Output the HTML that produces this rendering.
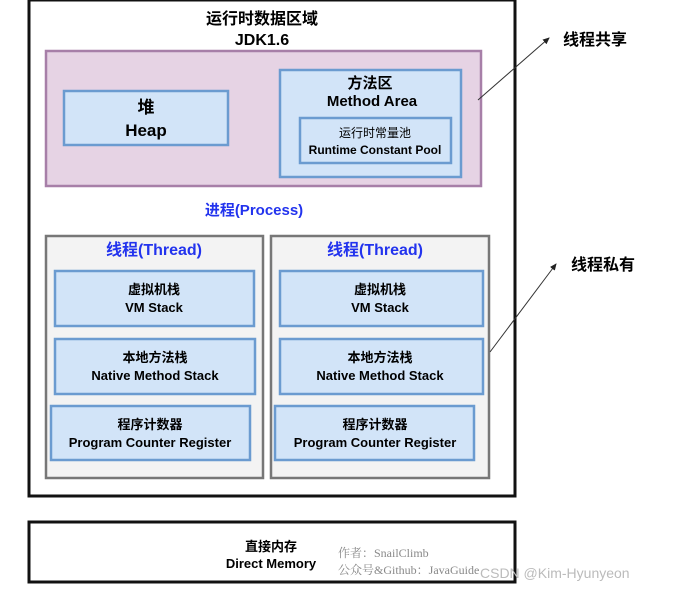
<!DOCTYPE html>
<html><head><meta charset="utf-8"><style>
body{margin:0;background:#fff}
text{font-family:"Liberation Sans","Noto Sans CJK SC",sans-serif;font-weight:bold;text-anchor:middle}
text.n{font-weight:normal}
</style></head><body>
<svg width="674" height="592" xmlns="http://www.w3.org/2000/svg">
<defs><marker id="a" markerWidth="8" markerHeight="8" refX="6" refY="3" orient="auto"><path d="M0,0 L7,3 L0,6 z" fill="#222"/></marker></defs>
<rect x="29" y="0" width="486" height="496" fill="#fff" stroke="#111" stroke-width="3"/>
<text x="262" y="24" font-size="16">运行时数据区域</text>
<text x="262" y="45" font-size="16">JDK1.6</text>
<rect x="46" y="51" width="435" height="135" fill="#e6d3e4" stroke="#a77fa8" stroke-width="2.5"/>
<rect x="64" y="91" width="164" height="54" fill="#d2e4f8" stroke="#6b9bd0" stroke-width="2.5"/>
<text x="146" y="113" font-size="17">堆</text>
<text x="146" y="136" font-size="17">Heap</text>
<rect x="280" y="70" width="181" height="107" fill="#d2e4f8" stroke="#6b9bd0" stroke-width="2.5"/>
<text x="370" y="88" font-size="15">方法区</text>
<text x="372" y="106" font-size="15">Method Area</text>
<rect x="300" y="118" width="151" height="45" fill="#d2e4f8" stroke="#6b9bd0" stroke-width="2.5"/>
<text x="375" y="137" font-size="12" class="n">运行时常量池</text>
<text x="375" y="154" font-size="12">Runtime Constant Pool</text>
<text x="254" y="215" font-size="15" fill="#2233ee">进程(Process)</text>
<g>
<rect x="46" y="236" width="217" height="242" fill="#f3f3f3" stroke="#777" stroke-width="2.5"/>
<text x="154" y="255" font-size="16" fill="#2233ee">线程(Thread)</text>
<rect x="55" y="271" width="199" height="55" fill="#d2e4f8" stroke="#6b9bd0" stroke-width="2.5"/>
<text x="154" y="294" font-size="13">虚拟机栈</text><text x="154" y="312" font-size="13">VM Stack</text>
<rect x="55" y="339" width="200" height="55" fill="#d2e4f8" stroke="#6b9bd0" stroke-width="2.5"/>
<text x="155" y="362" font-size="13">本地方法栈</text><text x="155" y="380" font-size="13">Native Method Stack</text>
<rect x="51" y="406" width="199" height="54" fill="#d2e4f8" stroke="#6b9bd0" stroke-width="2.5"/>
<text x="150" y="429" font-size="13">程序计数器</text><text x="150" y="447" font-size="13">Program Counter Register</text>
</g>
<g>
<rect x="271" y="236" width="218" height="242" fill="#f3f3f3" stroke="#777" stroke-width="2.5"/>
<text x="375" y="255" font-size="16" fill="#2233ee">线程(Thread)</text>
<rect x="280" y="271" width="203" height="55" fill="#d2e4f8" stroke="#6b9bd0" stroke-width="2.5"/>
<text x="380" y="294" font-size="13">虚拟机栈</text><text x="380" y="312" font-size="13">VM Stack</text>
<rect x="280" y="339" width="203" height="55" fill="#d2e4f8" stroke="#6b9bd0" stroke-width="2.5"/>
<text x="380" y="362" font-size="13">本地方法栈</text><text x="380" y="380" font-size="13">Native Method Stack</text>
<rect x="275" y="406" width="199" height="54" fill="#d2e4f8" stroke="#6b9bd0" stroke-width="2.5"/>
<text x="375" y="429" font-size="13">程序计数器</text><text x="375" y="447" font-size="13">Program Counter Register</text>
</g>
<line x1="478" y1="100" x2="549" y2="38" stroke="#333" stroke-width="1" marker-end="url(#a)"/>
<text x="595" y="45" font-size="16">线程共享</text>
<line x1="490" y1="352" x2="556" y2="264" stroke="#333" stroke-width="1" marker-end="url(#a)"/>
<text x="603" y="270" font-size="16">线程私有</text>
<rect x="29" y="522" width="486" height="60" fill="#fff" stroke="#111" stroke-width="3"/>
<text x="271" y="551" font-size="13">直接内存</text>
<text x="271" y="568" font-size="13">Direct Memory</text>
<text x="338" y="557" font-size="12" class="n" fill="#888" style="text-anchor:start;font-family:'Liberation Serif','Noto Serif CJK SC',serif">作者：SnailClimb</text>
<text x="338" y="574" font-size="12" class="n" fill="#888" style="text-anchor:start;font-family:'Liberation Serif','Noto Serif CJK SC',serif">公众号&amp;Github：JavaGuide</text>
<text x="480" y="578" font-size="14" class="n" fill="#bbb" style="text-anchor:start">CSDN @Kim-Hyunyeon</text>
</svg>
</body></html>
